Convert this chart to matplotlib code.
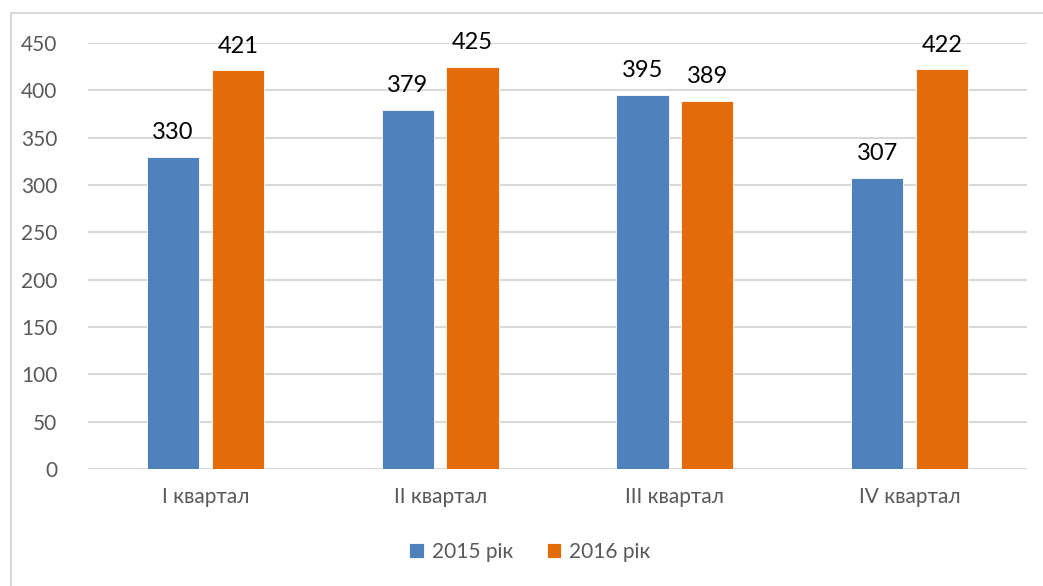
import matplotlib.pyplot as plt
import matplotlib.patches as mpatches
import numpy as np

plt.rcParams['font.family'] = ['Lato', 'DejaVu Sans']

# data
quarters = ["I квартал", "II квартал", "III квартал", "IV квартал"]
series_names = ["2015 рік", "2016 рік"]
values_2015 = [330, 379, 395, 307]
values_2016 = [421, 425, 389, 422]
y_ticks = [0, 50, 100, 150, 200, 250, 300, 350, 400, 450]

blue = "#4F81BD"
orange = "#E36C09"
gray_text = "#595959"
grid_col = "#D9D9D9"

fig = plt.figure(figsize=(10.43, 5.86), dpi=100)
ax = fig.add_axes([0.0844, 0.1997, 0.9003, 0.7270])

# chart-area border like the original (runs off right/bottom edge)
fig.patches.append(mpatches.Rectangle((11 / 1043, -0.01), 1.0, 1 - 13 / 586 + 0.01,
                                      transform=fig.transFigure, fill=False,
                                      edgecolor="#D9D9D9", linewidth=1.5))

x = np.arange(len(quarters))
width = 0.222
offset = 0.138
bars1 = ax.bar(x - offset, values_2015, width, color=blue, edgecolor="white", linewidth=0.6,
               label=series_names[0], zorder=3)
bars2 = ax.bar(x + offset, values_2016, width, color=orange, edgecolor="white", linewidth=0.6,
               label=series_names[1], zorder=3)

for bars in (bars1, bars2):
    for b in bars:
        ax.annotate(str(int(b.get_height())), (b.get_x() + b.get_width() / 2, b.get_height()),
                    xytext=(0, 10), textcoords="offset points", ha="center", va="bottom",
                    fontsize=17, color="black")

ax.set_xlim(-0.5, len(quarters) - 0.5)
ax.set_ylim(0, 450)
ax.set_yticks(y_ticks)
ax.set_xticks(x)
ax.set_xticklabels(quarters, fontsize=15, color=gray_text)
ax.tick_params(axis="y", labelsize=15, labelcolor=gray_text, length=0, pad=22)
ax.tick_params(axis="x", length=0, pad=13)
ax.yaxis.grid(True, color=grid_col, linewidth=1.5, zorder=0)
ax.set_axisbelow(True)
for s in ax.spines.values():
    s.set_visible(False)
ax.axhline(0, color=grid_col, linewidth=1.5, zorder=1)

leg = fig.legend(handles=[bars1, bars2], labels=series_names, loc="center",
                 bbox_to_anchor=(0.508, 1 - 552 / 586), ncol=2, frameon=False,
                 fontsize=15, handlelength=0.7, handleheight=0.7, columnspacing=1.6,
                 handletextpad=0.4)
for t in leg.get_texts():
    t.set_color(gray_text)

fig.savefig("out.png", dpi=100)
